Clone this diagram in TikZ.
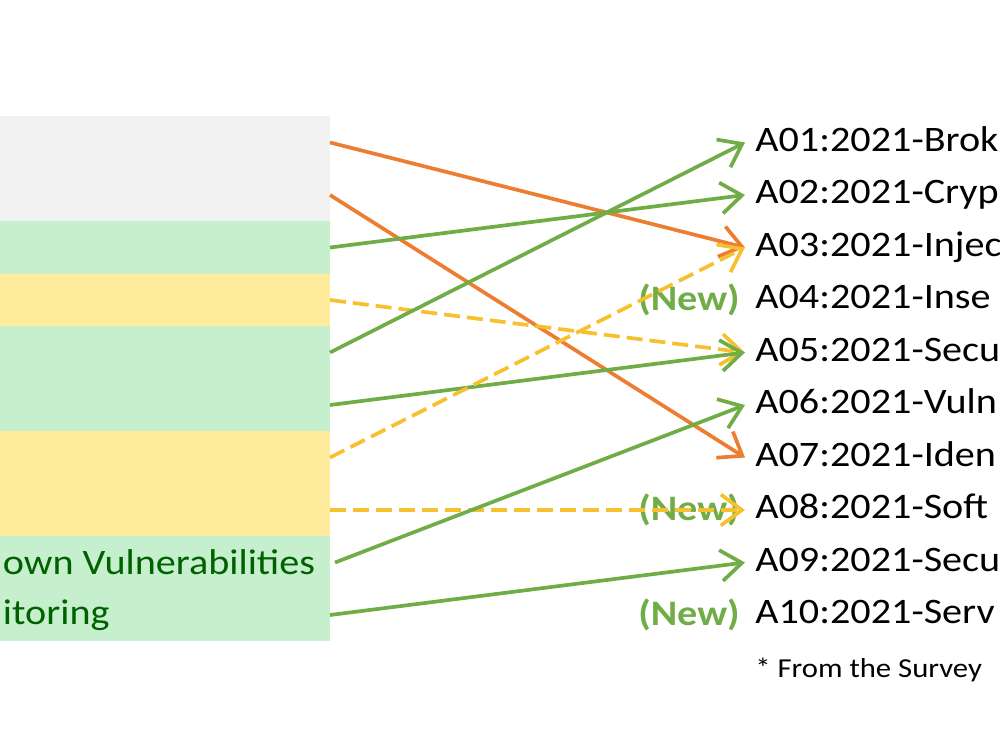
\documentclass[tikz,border=0pt]{standalone}
\usepackage{fontspec}
\setmainfont{Carlito}[FakeStretch=1.12]
\usepackage{xcolor}
\usepackage{tikz}
\usetikzlibrary{arrows.meta,positioning}

\definecolor{boxgray}{HTML}{F2F2F2}
\definecolor{boxgreen}{HTML}{C6EFCE}
\definecolor{boxyellow}{HTML}{FFEB9C}
\definecolor{textgreen}{HTML}{006100}
\definecolor{linegreen}{HTML}{70AD47}
\definecolor{lineorange}{HTML}{ED7D31}
\definecolor{lineyellow}{HTML}{F7C02E}

\tikzset{
    rowbox/.style={minimum width=6.6cm, minimum height=1.05cm, inner sep=0pt, outer sep=0pt},
    oldtext/.style={anchor=west, text=textgreen, inner sep=0.05cm, font=\fontsize{20.4}{24}\selectfont},
    itemlabel/.style={anchor=west, inner sep=0.2cm, text height=14pt, text depth=4pt, font=\fontsize{20.4}{24}\selectfont},
    newtag/.style={anchor=east, inner sep=0.1cm, text=linegreen, font=\fontsize{20.4}{24}\selectfont\bfseries},
    link/.style={line width=2.1pt, -{Straight Barb[length=0.42cm,width=0.62cm]}},
    dashlink/.style={link, lineyellow, dash pattern=on 0.32cm off 0.14cm}
}

\begin{document}
\begin{tikzpicture}
    \useasboundingbox (0,0) rectangle (20,15);

    % Old list: coloured rows on the left
    \node[rowbox, fill=boxgray] (o1) at (3.3,12.15) {};
    \foreach \i/\j/\c in {2/1/boxgray, 3/2/boxgreen, 4/3/boxyellow, 5/4/boxgreen,
                          6/5/boxgreen, 7/6/boxyellow, 8/7/boxyellow, 9/8/boxgreen, 10/9/boxgreen} {
        \node[rowbox, fill=\c, below=0pt of o\j] (o\i) {};
    }
    \node[oldtext] (t9) at (o9.west) {own Vulnerabilities};
    \node[oldtext] (t10) at (o10.west) {itoring};

    % New list on the right
    \coordinate (rcol) at (14.9,0);
    \foreach \i/\t in {1/A01:2021-Brok, 2/A02:2021-Cryp, 3/A03:2021-Injec, 4/A04:2021-Inse,
                       5/A05:2021-Secu, 6/A06:2021-Vuln, 7/A07:2021-Iden, 8/A08:2021-Soft,
                       9/A09:2021-Secu, 10/A10:2021-Serv} {
        \node[itemlabel] (n\i) at (o\i -| rcol) {\t};
    }
    \foreach \i in {4,8,10} {
        \node[newtag] (new\i) at (n\i.west) {(New)};
    }
    \node[anchor=west, inner sep=0pt, font=\fontsize{15.6}{18}\selectfont] (survey) at (15.1,1.6) {* From the Survey};

    % Mappings
    \draw[link, lineorange] (o1.east) -- (n3.west);
    \draw[link, lineorange] (o2.east) -- (n7.west);
    \draw[link, linegreen] (o3.east) -- (n2.west);
    \draw[dashlink] (o4.east) -- (n5.west);
    \draw[link, linegreen] (o5.east) -- (n1.west);
    \draw[link, linegreen] (o6.east) -- (n5.west);
    \draw[dashlink] (o7.east) -- (n3.west);
    \draw[dashlink] (o8.east) -- (n8.west);
    \draw[link, linegreen] ([xshift=0.1cm]o9.east) -- (n6.west);
    \draw[link, linegreen] (o10.east) -- (n9.west);
\end{tikzpicture}
\end{document}
